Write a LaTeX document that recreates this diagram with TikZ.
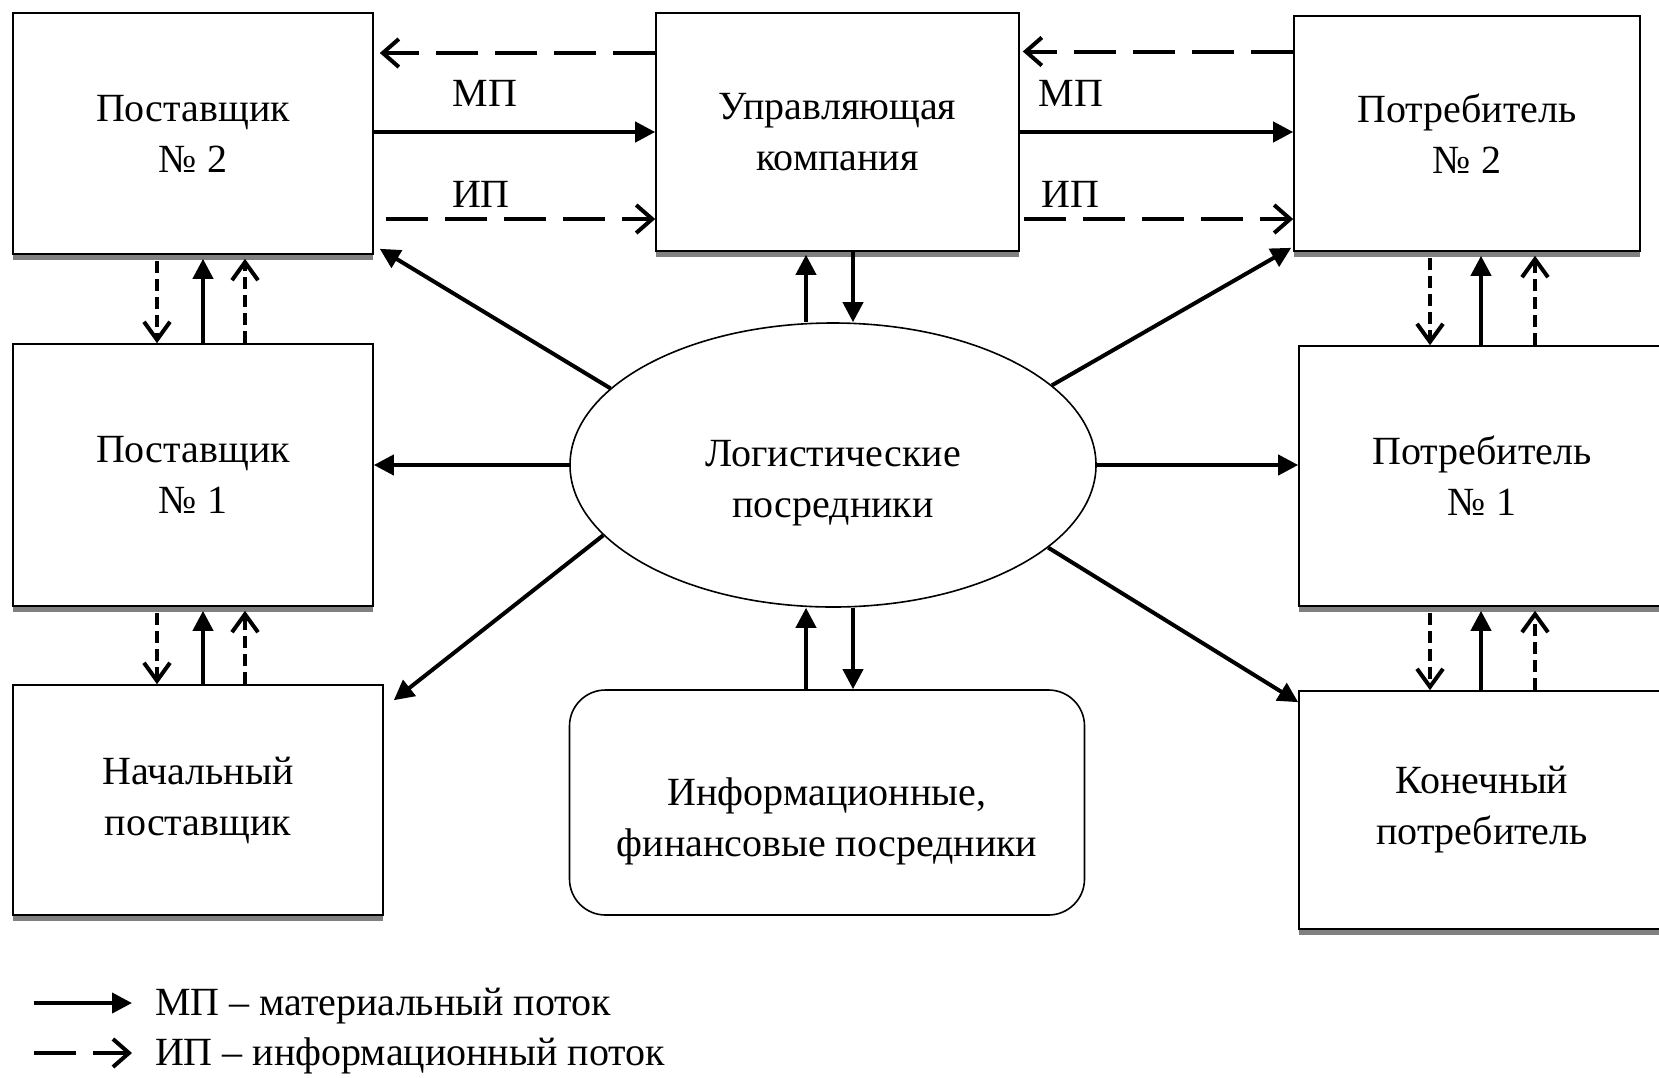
\documentclass[tikz,border=0pt]{standalone}
\usepackage{fontspec}
\setmainfont{Liberation Serif}
\usetikzlibrary{arrows.meta,shapes.geometric,shadows}

\tikzset{
  box/.style={draw, line width=0.8pt, fill=white, align=center,
    drop shadow={shadow xshift=0pt, shadow yshift=-3pt, fill=gray, opacity=1}},
  mp/.style={line width=2pt, -{Triangle[length=10pt,width=10pt]}},
  ip/.style={line width=2pt, dash pattern=on 21pt off 8.5pt, -{Straight Barb[length=8pt,width=14pt]}},
  ipv/.style={line width=2pt, dash pattern=on 6pt off 3pt, -{Straight Barb[length=9pt,width=13pt]}}
}

\begin{document}
\begin{tikzpicture}[x=0.5pt, y=-0.5pt, font=\fontsize{20}{25.5}\selectfont]
\useasboundingbox (0,0) rectangle (1659,1077);

% boxes
\node[box, minimum width=180pt, minimum height=120.5pt] (s2) at (193,133.5) {Поставщик\\№ 2};
\node[box, minimum width=181.5pt, minimum height=119pt] (uk) at (837.5,132) {Управляющая\\компания};
\node[box, minimum width=173pt, minimum height=117.5pt] (c2) at (1467,133.5) {Потребитель\\№ 2};
\node[box, minimum width=180pt, minimum height=131pt] (s1) at (193,475) {Поставщик\\№ 1};
\node[box, minimum width=183pt, minimum height=130pt] (c1) at (1482,476) {Потребитель\\№ 1};
\node[box, minimum width=185pt, minimum height=115pt] (s0) at (198,800) {Начальный\\поставщик};
\node[box, minimum width=183pt, minimum height=119pt] (c0) at (1482,810) {Конечный\\потребитель};
\node[draw, ellipse, line width=0.8pt, minimum width=263pt, minimum height=142pt, align=center, text height=56.5pt] (ell) at (833,465) {Логистические\\посредники};
\node[draw, rounded corners=18pt, line width=0.8pt, minimum width=257.5pt, minimum height=112.5pt, align=center, text height=58.5pt] (inf) at (827,802.5) {Информационные,\\финансовые посредники};

% flow labels
\node (mp1) at (485,93) {МП};
\node (ip1) at (481,194) {ИП};
\node (mp2) at (1071,93) {МП};
\node (ip2) at (1070,194) {ИП};

% top row
\draw[ip, shorten >=3pt] ([yshift=39.5pt]uk.west) -- ([yshift=39.5pt]uk.west -| s2.east);
\draw[mp] (s2.east |- uk.west) -- (uk.west);
\draw[ip, shorten <=6pt] ([yshift=-43.5pt]uk.west -| s2.east) -- ([yshift=-43.5pt]uk.west);
\draw[ip, shorten >=1.5pt] ([yshift=41pt]c2.west) -- ([yshift=41pt]c2.west -| uk.east);
\draw[mp] (uk.east) -- (uk.east -| c2.west);
\draw[ip, shorten <=2pt] ([yshift=-43.5pt]uk.east) -- ([yshift=-43.5pt]uk.east -| c2.west);

% left column
\draw[ipv, shorten <=3pt] ([xshift=-18pt]s2.south) -- ([xshift=-18pt]s2.south |- s1.north);
\draw[mp, shorten >=2pt] ([xshift=5pt]s2.south |- s1.north) -- ([xshift=5pt]s2.south);
\draw[ipv, shorten >=2pt] ([xshift=26pt]s2.south |- s1.north) -- ([xshift=26pt]s2.south);
\draw[ipv, shorten <=3pt] ([xshift=-18pt]s1.south) -- ([xshift=-18pt]s1.south |- s0.north);
\draw[mp, shorten >=2pt] ([xshift=5pt]s1.south |- s0.north) -- ([xshift=5pt]s1.south);
\draw[ipv, shorten >=2pt] ([xshift=26pt]s1.south |- s0.north) -- ([xshift=26pt]s1.south);

% right column
\draw[ipv, shorten <=3pt] ([xshift=-18.5pt]c2.south) -- ([xshift=-18.5pt]c2.south |- c1.north);
\draw[mp, shorten >=2pt] ([xshift=7pt]c2.south |- c1.north) -- ([xshift=7pt]c2.south);
\draw[ipv, shorten >=2pt] ([xshift=34pt]c2.south |- c1.north) -- ([xshift=34pt]c2.south);
\draw[ipv, shorten <=3pt] ([xshift=-26pt]c1.south) -- ([xshift=-26pt]c1.south |- c0.north);
\draw[mp, shorten >=2pt] ([xshift=-0.5pt]c1.south |- c0.north) -- ([xshift=-0.5pt]c1.south);
\draw[ipv, shorten >=2pt] ([xshift=26.5pt]c1.south |- c0.north) -- ([xshift=26.5pt]c1.south);

% logistics intermediaries
\draw[mp] (ell.161) -- ([shift={(3pt,3pt)}]s2.south east);
\draw[mp] (ell.west) -- (ell.west -| s1.east);
\draw[mp] (ell.197) -- ([shift={(5pt,-8pt)}]s0.north east);
\draw[mp] (ell.20) -- ([shift={(-1pt,2pt)}]c2.south west);
\draw[mp] (ell.east) -- (ell.east -| c1.west);
\draw[mp] (ell.339) -- ([yshift=-6pt]c0.north west);
\draw[mp, shorten >=1.5pt] ([xshift=-13.5pt]ell.north) -- ([xshift=-13.5pt]ell.north |- uk.south);
\draw[mp] ([xshift=10pt]ell.north |- uk.south) -- ([xshift=10pt]ell.north);
\draw[mp] ([xshift=-13.5pt]ell.south |- inf.north) -- ([xshift=-13.5pt]ell.south);
\draw[mp] ([xshift=10pt]ell.south) -- ([xshift=10pt]ell.south |- inf.north);

% legend
\coordinate (l1a) at (34,1003);
\coordinate (l1b) at (132,1003);
\coordinate (l2a) at (34,1053);
\coordinate (l2b) at (132,1053);
\draw[mp] (l1a) -- (l1b);
\draw[ip] (l2a) -- (l2b);
\node[anchor=west] (lg1) at (148,1006) {МП – материальный поток};
\node[anchor=west] (lg2) at (148,1056) {ИП – информационный поток};
\end{tikzpicture}
\end{document}
